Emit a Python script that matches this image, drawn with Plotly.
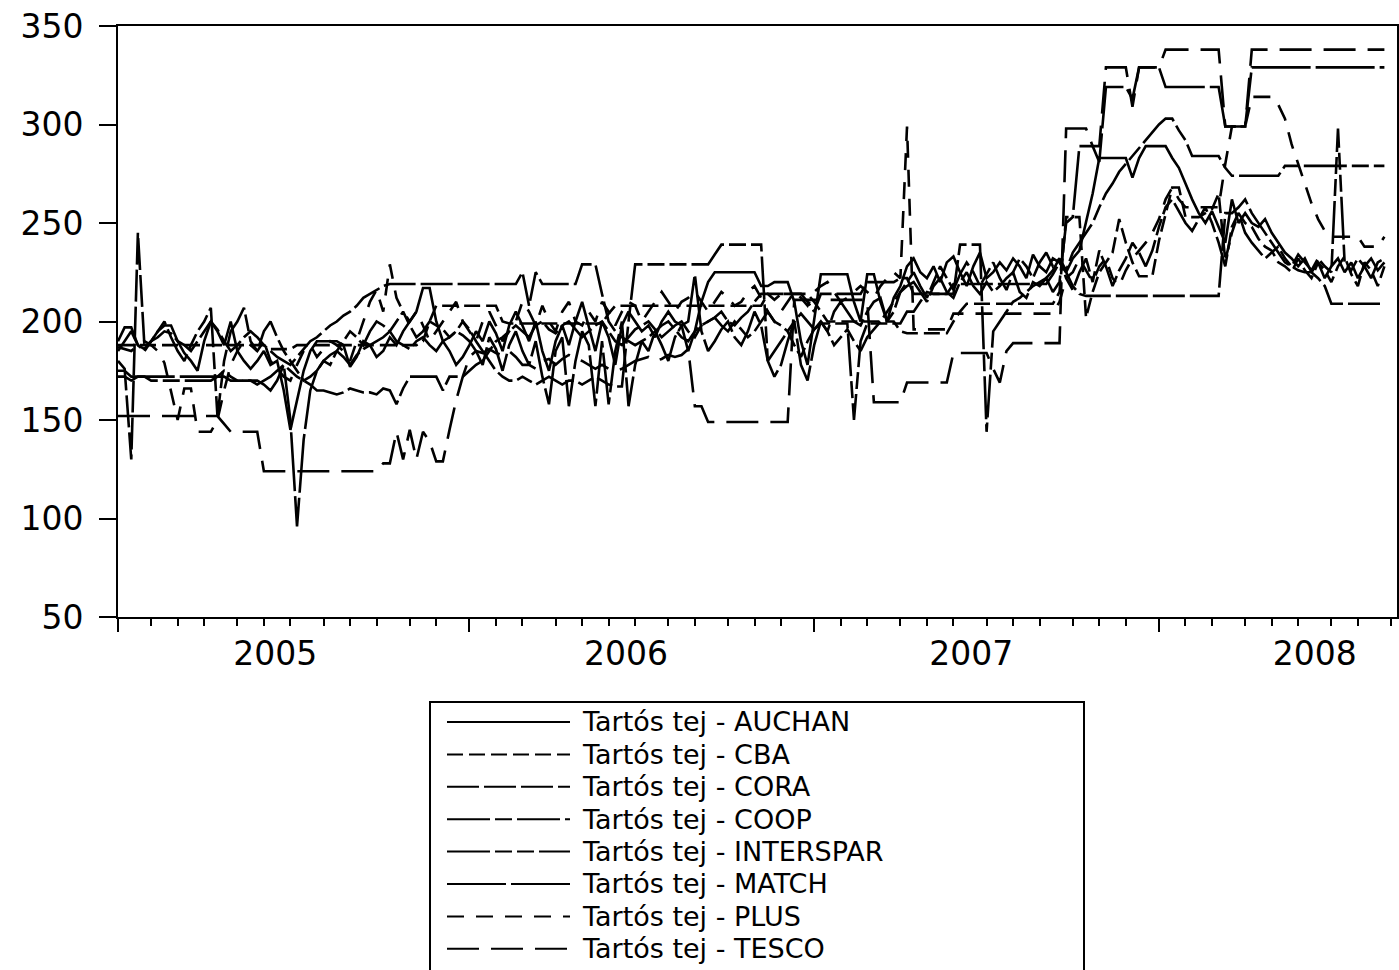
import plotly.graph_objects as go

W, H = 1399, 970

# weekly observation index (0 = first week of 2005)
weeks = list(range(192))

year_ticks = [0, 53, 105, 157]
month_ticks = [5, 9, 13, 18, 22, 26, 31, 35, 39, 44, 48,
               57, 61, 66, 70, 74, 78, 83, 87, 92, 96, 100,
               109, 113, 118, 122, 126, 131, 135, 139, 144, 148, 152,
               161, 165, 170, 174, 178, 183, 187, 192]
year_label_pos = [23.7, 76.6, 128.7, 180.5]
year_labels = ["2005", "2006", "2007", "2008"]
y_ticks = [50, 100, 150, 200, 250, 300, 350]

auchan = [
    190, 197, 197, 188, 186, 190, 195, 198, 198, 190,
    184, 180, 175, 190, 200, 195, 188, 200, 185, 180,
    176, 180, 185, 178, 180, 165, 145, 160, 175, 185,
    190, 190, 190, 190, 188, 177, 182, 190, 188, 182,
    185, 192, 188, 195, 200, 205, 217, 217, 200, 190,
    185, 178, 182, 188, 195, 190, 200, 194, 185, 198,
    205, 198, 190, 200, 185, 175, 190, 198, 188, 200,
    210, 198, 185, 200, 192, 178, 198, 205, 200, 195,
    198, 192, 200, 205, 200, 198, 185, 195, 210, 220,
    225, 225, 225, 225, 225, 225, 225, 218, 218, 220,
    220, 220, 210, 190, 178, 200, 224, 224, 224, 224,
    224, 210, 200, 224, 224, 210, 200, 212, 218, 228,
    232, 225, 222, 228, 220, 230, 233, 225, 218, 228,
    235, 222, 225, 230, 226, 232, 228, 222, 234, 228,
    225, 232, 230, 225, 232, 236, 250, 265, 283, 283,
    283, 283, 283, 273, 283, 289, 289, 289, 289, 283,
    278, 270, 262, 255, 250, 256, 248, 240, 262, 250,
    255, 250, 248, 252, 245, 240, 235, 232, 228, 232,
    225, 230, 222, 228, 232, 225, 230, 222, 228, 232,
    226, 230]

cba = [
    188, 188, 188, 188, 188, 188, 188, 188, 188, 188,
    188, 188, 188, 188, 188, 188, 188, 188, 188, 188,
    188, 188, 188, 186, 186, 186, 186, 188, 188, 188,
    188, 188, 188, 188, 188, 188, 188, 188, 188, 188,
    188, 188, 188, 188, 188, 188, 190, 200, 208, 208,
    208, 208, 208, 208, 208, 208, 208, 208, 200, 199,
    199, 199, 199, 199, 199, 199, 199, 199, 199, 199,
    199, 199, 199, 199, 204, 208, 208, 208, 208, 208,
    208, 208, 208, 208, 208, 208, 208, 208, 208, 208,
    208, 208, 208, 208, 208, 208, 208, 208, 214, 214,
    214, 214, 214, 214, 214, 210, 205, 200, 200, 200,
    200, 200, 200, 200, 200, 200, 200, 200, 195, 194,
    194, 194, 194, 194, 194, 194, 200, 205, 209, 209,
    209, 209, 209, 209, 209, 209, 209, 209, 209, 209,
    209, 209, 215, 253, 253, 253, 202, 215, 225, 230,
    235, 252, 240, 230, 223, 223, 223, 241, 255, 268,
    268, 253, 253, 253, 255, 257, 265, 231, 245, 255,
    250, 248, 242, 238, 236, 230, 228, 225, 232, 226,
    222, 230, 226, 220, 228, 233, 224, 218, 230, 226,
    218, 228]

cora = [
    180, 176, 130, 245, 187, 190, 192, 195, 194, 190,
    188, 185, 190, 195, 200, 196, 190, 185, 188, 192,
    195, 192, 188, 185, 182, 180, 178, 182, 186, 190,
    192, 195, 198, 200, 203, 205, 208, 212, 214, 216,
    218, 219, 219, 219, 219, 219, 219, 219, 219, 219,
    219, 219, 219, 219, 219, 219, 219, 219, 219, 219,
    219, 225, 208, 225, 219, 219, 219, 219, 219, 219,
    229, 229, 229, 214, 200, 195, 192, 190, 188, 190,
    192, 195, 198, 200, 196, 192, 190, 195, 198, 200,
    202, 205, 200, 198, 202, 205, 210, 214, 214, 211,
    214, 214, 214, 214, 210, 205, 214, 214, 214, 214,
    214, 214, 214, 220, 220, 220, 220, 220, 222, 222,
    214, 214, 214, 214, 214, 214, 219, 219, 219, 219,
    219, 219, 219, 219, 219, 219, 219, 219, 219, 219,
    219, 224, 230, 225, 218, 214, 213, 213, 213, 213,
    213, 213, 213, 213, 213, 213, 213, 213, 213, 213,
    213, 213, 213, 213, 213, 213, 213, 255, 255, 258,
    262, 255, 250, 245, 240, 235, 230, 228, 226, 225,
    225, 222, 218, 209, 209, 209, 209, 209, 209, 209,
    209, 209]

coop = [
    172, 172, 170, 172, 172, 170, 170, 170, 170, 170,
    170, 170, 170, 170, 170, 172, 175, 172, 170, 170,
    170, 168, 170, 172, 175, 178, 175, 172, 170, 168,
    165, 165, 164, 163, 164, 166, 165, 164, 164, 163,
    166, 165, 158, 166, 172, 172, 172, 172, 172, 165,
    172, 172, 172, 175, 178, 180, 185, 190, 192, 195,
    198, 195, 192, 198, 200, 196, 194, 198, 200, 196,
    192, 195, 198, 200, 195, 190, 188, 192, 196, 198,
    200, 196, 192, 195, 198, 200, 195, 192, 198, 200,
    202, 198, 195, 200, 196, 192, 195, 200, 205, 200,
    198, 195, 200, 204, 200, 196, 199, 199, 199, 199,
    199, 150, 190, 199, 199, 199, 199, 199, 199, 205,
    205, 210, 215, 214, 214, 214, 214, 239, 239, 239,
    239, 144, 195, 200, 205, 210, 212, 215, 218, 220,
    222, 226, 232, 226, 235, 240, 245, 250, 258, 265,
    270, 276, 280, 284, 288, 292, 296, 300, 303, 303,
    297, 292, 284, 284, 284, 284, 284, 278, 274, 274,
    274, 274, 274, 274, 274, 274, 279, 279, 279, 279,
    279, 279, 279, 279, 279, 279, 279, 279, 279, 279,
    279, 279]

interspar = [
    185, 190, 195, 188, 185, 190, 195, 200, 192, 185,
    180, 188, 195, 200, 207, 152, 180, 195, 200, 207,
    190, 185, 195, 200, 192, 185, 180, 175, 170, 172,
    175, 180, 178, 185, 190, 195, 192, 188, 195, 200,
    198, 195, 200, 205, 198, 192, 195, 200, 198, 196,
    192, 195, 200, 196, 190, 185, 180, 175, 172, 170,
    170, 172, 170, 168, 170, 172, 170, 168, 170, 170,
    168, 170, 172, 170, 168, 167, 167, 200, 229, 229,
    229, 229, 229, 229, 229, 229, 229, 229, 229, 229,
    234, 239, 239, 239, 239, 239, 239, 239, 180, 185,
    190, 195, 188, 182, 190, 196, 200, 195, 188, 192,
    196, 190, 185, 192, 196, 200, 205, 210, 215, 220,
    225, 218, 212, 220, 228, 222, 216, 224, 230, 225,
    218, 224, 230, 222, 216, 225, 232, 228, 222, 230,
    235, 228, 232, 222, 216, 225, 232, 220, 236, 228,
    218, 226, 232, 240, 235, 228, 236, 248, 258, 262,
    256, 250, 246, 252, 258, 250, 240, 228, 248, 255,
    245, 240, 236, 232, 235, 238, 232, 228, 234, 230,
    226, 232, 228, 225, 298, 230, 226, 232, 228, 222,
    230, 232]

match = [
    175, 175, 172, 172, 172, 172, 172, 172, 172, 172,
    172, 172, 172, 172, 172, 172, 172, 170, 170, 170,
    170, 170, 168, 165, 170, 178, 150, 96, 140, 165,
    175, 180, 183, 185, 182, 178, 183, 186, 188, 190,
    192, 195, 190, 188, 186, 190, 192, 188, 185, 190,
    192, 195, 193, 190, 185, 178, 192, 186, 175, 188,
    195, 185, 178, 190, 172, 158, 185, 192, 157, 180,
    195, 188, 157, 190, 158, 185, 200, 157, 178, 190,
    185, 195, 188, 180, 192, 198, 200, 224, 195, 185,
    190, 196, 200, 192, 188, 195, 205, 198, 180, 172,
    178, 190, 200, 178, 170, 188, 200, 195, 205, 210,
    205, 200, 198, 205, 210, 212, 200, 205, 215, 218,
    220, 215, 210, 218, 222, 215, 212, 220, 225, 218,
    214, 220, 215, 218, 222, 225, 215, 212, 220, 218,
    222, 215, 220, 250, 253, 289, 289, 289, 281, 319,
    319, 319, 319, 313, 329, 329, 329, 329, 319, 319,
    319, 319, 319, 319, 319, 319, 319, 299, 299, 299,
    299, 329, 329, 329, 329, 329, 329, 329, 329, 329,
    329, 329, 329, 329, 329, 329, 329, 329, 329, 329,
    329, 329]

plus = [
    187, 186, 185, 188, 190, 188, 185, 179, 165, 150,
    166, 166, 144, 144, 144, 150, 165, 178, 185, 190,
    188, 185, 190, 180, 176, 172, 170, 178, 185, 188,
    182, 186, 190, 188, 185, 180, 190, 200, 210, 216,
    205, 229, 212, 205, 200, 205, 198, 190, 195, 200,
    205, 210, 200, 195, 190, 200, 205, 198, 190, 195,
    200, 210, 205, 198, 208, 200, 195, 205, 210, 200,
    198, 205, 200, 210, 205, 198, 205, 210, 208, 200,
    205, 210, 215, 210, 205, 210, 212, 215, 210, 205,
    210, 215, 212, 208, 210, 215, 218, 212, 205, 200,
    205, 210, 215, 212, 208, 215, 218, 220, 215, 210,
    212, 215, 218, 215, 212, 218, 222, 225, 222, 299,
    196, 196, 196, 196, 196, 196, 204, 204, 204, 204,
    204, 204, 204, 204, 204, 204, 204, 204, 204, 204,
    204, 204, 210, 222, 225, 232, 226, 220, 228, 232,
    222, 218, 226, 232, 236, 240, 245, 252, 262, 268,
    262, 258, 258, 258, 258, 258, 258, 280, 299, 299,
    299, 314, 314, 314, 314, 310, 303, 290, 280, 270,
    260, 252, 246, 243, 243, 243, 243, 243, 238, 238,
    238, 243]

tesco = [
    152, 152, 152, 152, 152, 152, 152, 152, 152, 152,
    152, 152, 152, 152, 152, 152, 148, 144, 144, 144,
    144, 144, 124, 124, 124, 124, 124, 124, 124, 124,
    124, 124, 124, 124, 124, 124, 124, 124, 124, 124,
    128, 128, 144, 130, 145, 130, 144, 139, 129, 129,
    145, 160, 172, 182, 185, 184, 186, 184, 183, 185,
    182, 178, 178, 176, 180, 181, 178, 181, 183, 181,
    180, 178, 176, 178, 176, 175, 176, 178, 180, 181,
    182, 180, 181, 183, 182, 183, 186, 157, 157, 149,
    149, 149, 149, 149, 149, 149, 149, 149, 149, 149,
    149, 149, 211, 211, 211, 211, 211, 211, 211, 211,
    211, 211, 211, 211, 159, 159, 159, 159, 159, 169,
    169, 169, 169, 169, 169, 169, 184, 184, 184, 184,
    184, 184, 176, 169, 185, 189, 189, 189, 189, 189,
    189, 189, 189, 298, 298, 298, 298, 289, 289, 329,
    329, 329, 329, 309, 329, 329, 329, 329, 338, 338,
    338, 338, 338, 338, 338, 338, 338, 299, 299, 299,
    299, 338, 338, 338, 338, 338, 338, 338, 338, 338,
    338, 338, 338, 338, 338, 338, 338, 338, 338, 338,
    338, 338]

series_names = ["Tartós tej - AUCHAN", "Tartós tej - CBA", "Tartós tej - CORA",
                "Tartós tej - COOP", "Tartós tej - INTERSPAR", "Tartós tej - MATCH",
                "Tartós tej - PLUS", "Tartós tej - TESCO"]
series_values = [auchan, cba, cora, coop, interspar, match, plus, tesco]
dashes = ["solid", "16px,6px", "32px,5px", "43px,5px,17px,5px",
          "43px,5px,17px,5px,17px,5px", "59px,5px", "17px,12px", "32px,12px"]

fig = go.Figure()

for name, vals, dash in zip(series_names, series_values, dashes):
    fig.add_trace(go.Scatter(x=weeks, y=vals, mode="lines", name=name,
                             line=dict(color="black", width=2.6, dash=dash),
                             showlegend=False, hoverinfo="skip",
                             xaxis="x", yaxis="y"))

# dummy trace to carry the year-label axis
fig.add_trace(go.Scatter(x=year_label_pos, y=[None] * len(year_label_pos),
                         mode="lines", showlegend=False, hoverinfo="skip",
                         xaxis="x2", yaxis="y"))

# legend drawn as a small subplot: sample lines with labels on its right axis
for k, (name, dash) in enumerate(zip(series_names, dashes)):
    fig.add_trace(go.Scatter(x=[0, 1], y=[k, k], mode="lines",
                             line=dict(color="black", width=2, dash=dash),
                             showlegend=False, hoverinfo="skip",
                             xaxis="x3", yaxis="y3"))

font_family = "DejaVu Sans"
xdom = [118 / W, 1397 / W]
xrange_ = [0, 192.9]

fig.update_layout(
    width=W, height=H,
    margin=dict(l=0, r=0, t=0, b=0, pad=0, autoexpand=False),
    paper_bgcolor="white", plot_bgcolor="white",
    showlegend=False,
    font=dict(family=font_family, size=33, color="black"),
    xaxis=dict(domain=xdom, range=xrange_, anchor="y", automargin=False,
               showline=True, linecolor="black", linewidth=2, mirror=True,
               tickmode="array", tickvals=year_ticks, ticks="outside",
               ticklen=13, tickwidth=1.5, tickcolor="black",
               showticklabels=False, showgrid=False, zeroline=False,
               minor=dict(tickmode="array", tickvals=month_ticks, ticks="outside",
                          ticklen=7, tickwidth=1.5, tickcolor="black", showgrid=False)),
    xaxis2=dict(overlaying="x", anchor="y", range=xrange_, side="bottom",
                automargin=False,
                tickmode="array", tickvals=year_label_pos, ticktext=year_labels,
                ticks="", showline=False, showgrid=False, zeroline=False,
                ticklabelstandoff=14,
                tickfont=dict(family=font_family, size=33, color="black")),
    yaxis=dict(domain=[1 - 617 / H, 1 - 26 / H], range=[50, 350], anchor="x",
               automargin=False,
               tickmode="array", tickvals=y_ticks, ticks="outside",
               ticklen=17, tickwidth=1.5, tickcolor="black",
               showline=True, linecolor="black", linewidth=2, mirror=True,
               showgrid=False, zeroline=False, ticklabelstandoff=9,
               tickfont=dict(family=font_family, size=33, color="black")),
    xaxis3=dict(domain=[447 / W, 570 / W], range=[0, 1], anchor="y3",
                automargin=False, visible=False),
    yaxis3=dict(domain=[1 - 965 / H, 1 - 705.8 / H], range=[7.5, -0.5],
                anchor="x3", side="right", automargin=False,
                tickmode="array", tickvals=list(range(len(series_names))),
                ticktext=series_names, ticks="", showline=False,
                showgrid=False, zeroline=False, ticklabelstandoff=12,
                tickfont=dict(family=font_family, size=27, color="black")),
    shapes=[dict(type="rect", xref="paper", yref="paper",
                 x0=430 / W, x1=1084 / W, y0=-0.02, y1=1 - 702 / H,
                 line=dict(color="black", width=2),
                 fillcolor="rgba(0,0,0,0)", layer="below")],
)

fig.write_html("out.html")
